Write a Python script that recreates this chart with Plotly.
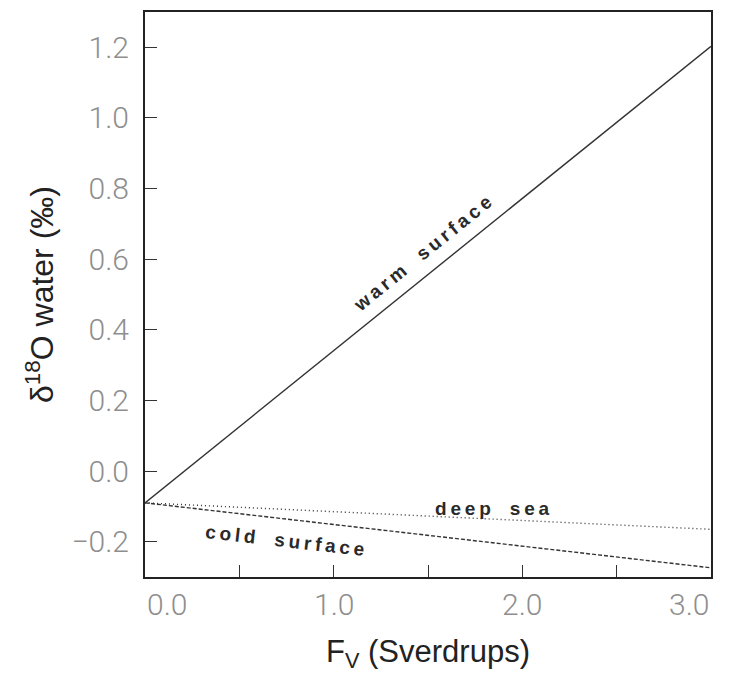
import plotly.graph_objects as go

# Freshwater flux (Sverdrups) and resulting delta-18O of each water mass (per mil)
flux = [0.0, 3.0]
warm_surface = [-0.09, 1.203]
deep_sea = [-0.09, -0.165]
cold_surface = [-0.09, -0.274]

x_tick_vals = [0.0, 0.5, 1.0, 1.5, 2.0, 2.5, 3.0]
x_label_vals = [0.0, 1.0, 2.0, 3.0]
x_label_text = ["0.0", "1.0", "2.0", "3.0"]
y_tick_vals = [-0.2, 0.0, 0.2, 0.4, 0.6, 0.8, 1.0, 1.2]
y_tick_text = ["\u22120.2", "0.0", "0.2", "0.4", "0.6", "0.8", "1.0", "1.2"]

line_col = "#333333"
fig = go.Figure()
fig.add_trace(go.Scatter(x=flux, y=warm_surface, mode="lines",
                         line=dict(color=line_col, width=1.4)))
fig.add_trace(go.Scatter(x=flux, y=deep_sea, mode="lines",
                         line=dict(color=line_col, width=1.4, dash="1px,3px")))
fig.add_trace(go.Scatter(x=flux, y=cold_surface, mode="lines",
                         line=dict(color=line_col, width=1.4, dash="4px,2px")))

def spaced(s):
    return "\u2009".join(s)

label_font = dict(family="Liberation Sans, Arial, sans-serif", size=19,
                  color="#2a2a2a", weight="bold")
fig.add_annotation(x=1.47, y=0.615, text=spaced("warm") + "\u2003" + spaced("surface"),
                   showarrow=False, textangle=-39, font=label_font)
fig.add_annotation(x=1.84, y=-0.107, text=spaced("deep") + "\u2003" + spaced("sea"),
                   showarrow=False, textangle=0, font=label_font)
fig.add_annotation(x=0.74, y=-0.196, text=spaced("cold") + "\u2003" + spaced("surface"),
                   showarrow=False, textangle=6.5, font=label_font)

tick_font = dict(family="Roboto, Liberation Sans, Arial, sans-serif", size=30,
                 color="#8e8e8e", weight=300)
title_font = dict(family="Liberation Sans, Arial, sans-serif", size=31, color="#222222")

# x tick labels: end labels kept inside the frame
for v, t in zip(x_label_vals, x_label_text):
    anchor = "left" if v == x_label_vals[0] else ("right" if v == x_label_vals[-1] else "center")
    fig.add_annotation(x=v, y=0, xref="x", yref="paper", text=t, showarrow=False,
                       xanchor=anchor, yanchor="top", yshift=-8, font=tick_font)

fig.update_xaxes(range=[0, 3], tickvals=x_tick_vals, showticklabels=False,
                 ticks="inside", ticklen=12, tickwidth=1.2, tickcolor="#333333",
                 showline=True, linecolor="#222222", linewidth=2, mirror=True,
                 showgrid=False, zeroline=False,
                 title=dict(text="F<sub>V</sub> (Sverdrups)", font=title_font, standoff=62))
fig.update_yaxes(range=[-0.3, 1.3], tickvals=y_tick_vals, ticktext=y_tick_text,
                 ticks="inside", ticklen=12, tickwidth=1.2, tickcolor="#333333",
                 showline=True, linecolor="#222222", linewidth=2, mirror=True,
                 showgrid=False, zeroline=False, tickfont=tick_font, ticklabelstandoff=8,
                 title=dict(text="\u03b4<sup>18</sup>O water (\u2030)",
                            font=dict(family="Liberation Sans, Arial, sans-serif", size=32,
                                      color="#222222"), standoff=8))

fig.update_layout(width=738, height=690, showlegend=False,
                  plot_bgcolor="white", paper_bgcolor="white",
                  margin=dict(l=145, r=27, t=12, b=113, autoexpand=False))

fig.write_html("out.html")
